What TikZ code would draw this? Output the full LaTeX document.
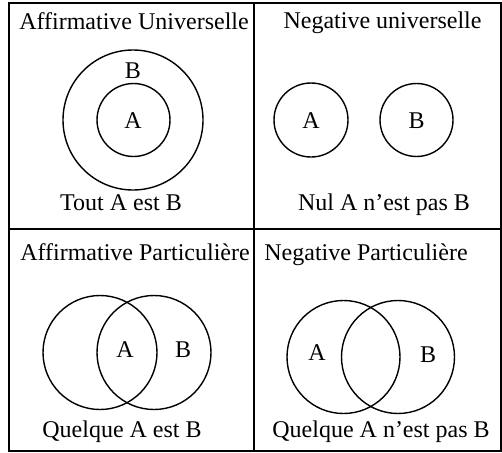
\documentclass[tikz,border=0pt]{standalone}
\usepackage{fontspec}
\setmainfont{Liberation Serif}
\tikzset{
  txt/.style={anchor=base, inner sep=0pt, font=\fontsize{24}{28}\selectfont},
  circ/.style={draw, circle, line width=1.4pt, inner sep=0pt},
  frame/.style={draw, line width=2pt}
}
\begin{document}
\begin{tikzpicture}[x=1pt,y=-1pt]
\useasboundingbox (0,0) rectangle (502,452);
% frame
\draw[frame] (9,3) rectangle (501,451);
\draw[frame] (254,3) -- (254,451);
\draw[frame] (9,229) -- (501,229);
% cell 1
\node[txt] (t1) at (134,30) {Affirmative Universelle};
\node[circ, minimum size=140pt] (c1b) at (133,120) {};
\node[circ, minimum size=73pt] (c1a) at (133.5,120) {};
\node[txt] (l1b) at (133,78) {B};
\node[txt] (l1a) at (133,128) {A};
\node[txt] (s1) at (121,210) {Tout A est B};
% cell 2
\node[txt] (t2) at (382.5,29) {Negative universelle};
\node[circ, minimum size=74pt] (c2a) at (311,120) {};
\node[circ, minimum size=73pt] (c2b) at (416.5,120) {};
\node[txt] (l2a) at (311,128) {A};
\node[txt] (l2b) at (416.5,128) {B};
\node[txt] (s2) at (384,210) {Nul A n’est pas B};
% cell 3
\node[txt] (t3) at (135,260) {Affirmative Particulière};
\node[circ, minimum size=114pt] (c3a) at (100,352.5) {};
\node[circ, minimum size=114pt] (c3b) at (154,352.5) {};
\node[txt] (l3a) at (125,357) {A};
\node[txt] (l3b) at (183,357) {B};
\node[txt] (s3) at (122,437) {Quelque A est B};
% cell 4
\node[txt] (t4) at (366,260) {Negative Particulière};
\node[circ, minimum size=113pt] (c4a) at (343.5,357) {};
\node[circ, minimum size=113pt] (c4b) at (398,357) {};
\node[txt] (l4a) at (317,360) {A};
\node[txt] (l4b) at (428,362) {B};
\node[txt] (s4) at (381,437) {Quelque A n’est pas B};
\end{tikzpicture}
\end{document}
